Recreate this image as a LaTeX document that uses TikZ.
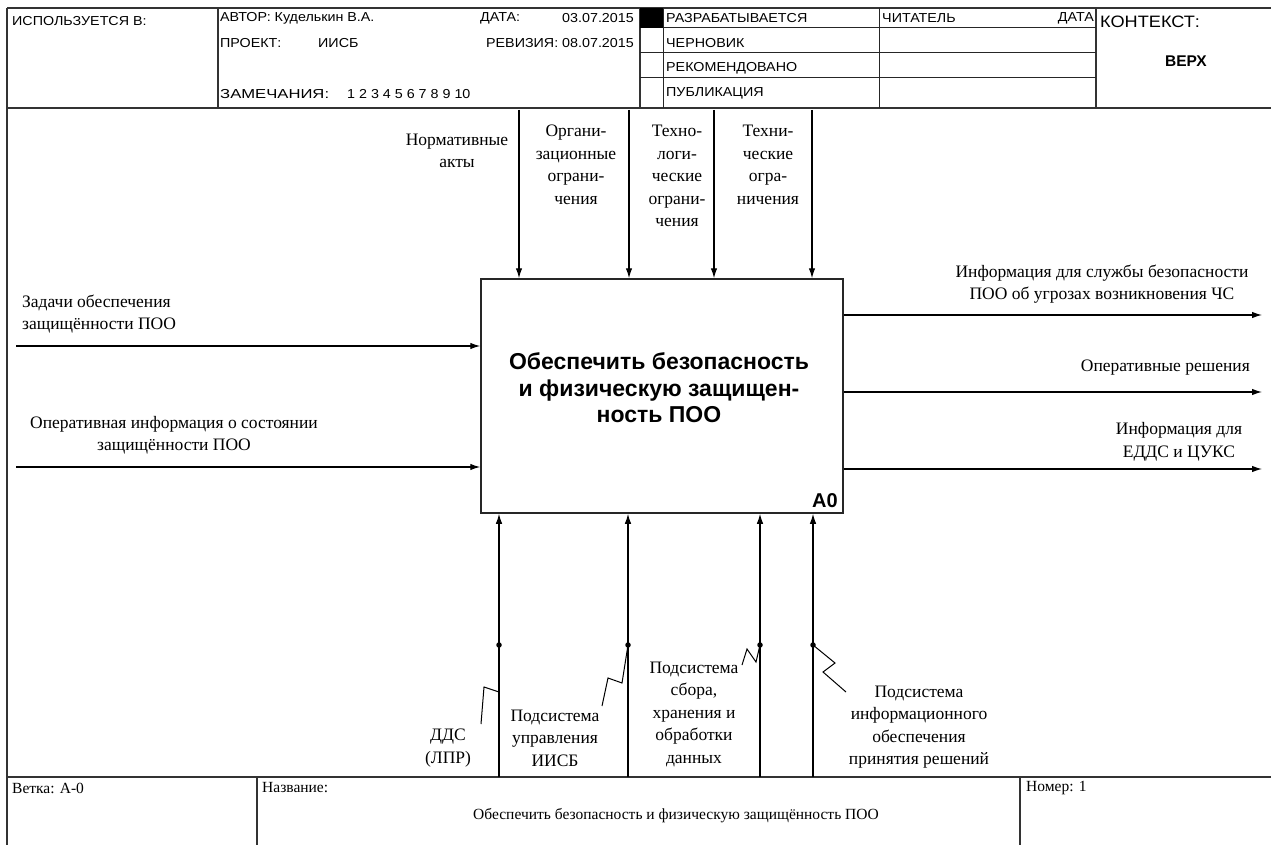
\documentclass[tikz,border=0pt]{standalone}
\usepackage{fontspec}
\setmainfont{Liberation Serif}
\newfontfamily\hdr[FakeStretch=1.1]{Liberation Sans}
\newfontfamily\hdrw[FakeStretch=1.28]{Liberation Sans}
\newfontfamily\boxfont{Liberation Sans}
\usetikzlibrary{arrows.meta}
\begin{document}
\begin{tikzpicture}[x=1pt,y=-1pt,
  framel/.style={line width=1.8pt, draw=black!80},
  hline/.style={line width=1pt, draw=black!85},
  flow/.style={line width=1.2pt, draw=black, -{Latex[length=10pt,width=6.5pt]}},
  hdrtext/.style={font=\hdr\fontsize{13}{15}\selectfont, inner sep=0pt},
  lbl/.style={font=\fontsize{17.5}{22.5}\selectfont, align=center, inner sep=0pt},
  ftext/.style={font=\fontsize{15.5}{18}\selectfont, inner sep=0pt},
  jdot/.style={circle, fill=black, inner sep=0pt, minimum size=5.5pt},
  squig/.style={line width=1pt, draw=black},
]
\useasboundingbox (0,0) rectangle (1271,845);
\fill[white] (0,0) rectangle (1271,845);

% ---------- frame ----------
\draw[framel] (7,8) -- (1271,8);
\draw[framel] (7,8) -- (7,845);
\draw[framel] (7,108) -- (1271,108);
\draw[framel] (7,777) -- (1271,777);
\draw[framel] (218,8) -- (218,108);
\draw[framel] (640,8) -- (640,108);
\draw[framel] (1096,8) -- (1096,108);
\draw[hline] (663,8) -- (663,108);
\draw[hline] (879,8) -- (879,108);
\draw[hline] (640,28) -- (1096,28);
\draw[hline] (640,53) -- (1096,53);
\draw[hline] (640,78) -- (1096,78);
\fill[black] (640,8) rectangle (663,28);
\draw[framel] (257,777) -- (257,845);
\draw[framel] (1020,777) -- (1020,845);

% ---------- header texts ----------
\node[hdrtext, anchor=west] (h1) at (12,21) {ИСПОЛЬЗУЕТСЯ В:};
\node[hdrtext, anchor=west] (h2) at (220,18) {АВТОР: Куделькин В.А.};
\node[hdrtext, anchor=west] (h3) at (220,43) {ПРОЕКТ:};
\node[hdrtext, anchor=west] (h4) at (318,43) {ИИСБ};
\node[hdrtext, font=\hdrw\fontsize{13}{15}\selectfont, anchor=west] (h5) at (220,94) {ЗАМЕЧАНИЯ:};
\node[hdrtext, anchor=west] (h5n) at (347,94) {1 2 3 4 5 6 7 8 9 10};
\node[hdrtext, anchor=west] (h6) at (480,18) {ДАТА:};
\node[hdrtext, anchor=east] (h7) at (634,18) {03.07.2015};
\node[hdrtext, anchor=east] (h8) at (634,43) {РЕВИЗИЯ: 08.07.2015};
\node[hdrtext, anchor=west] (s1) at (666,18) {РАЗРАБАТЫВАЕТСЯ};
\node[hdrtext, anchor=west] (s2) at (666,43) {ЧЕРНОВИК};
\node[hdrtext, anchor=west] (s3) at (666,68) {РЕКОМЕНДОВАНО};
\node[hdrtext, anchor=west] (s4) at (666,93) {ПУБЛИКАЦИЯ};
\node[hdrtext, anchor=west] (rd) at (882,18) {ЧИТАТЕЛЬ};
\node[hdrtext, anchor=east] (rdt) at (1094,18) {ДАТА};
\node[font=\hdr\fontsize{16.5}{18}\selectfont, inner sep=0pt, anchor=west] (ctx) at (1100,22) {КОНТЕКСТ:};
\node[font=\boxfont\bfseries\fontsize{15.5}{18}\selectfont, inner sep=0pt] (top) at (1186,61) {ВЕРХ};

% ---------- activity box ----------
\node[draw=black!85, line width=1.5pt, minimum width=362pt, minimum height=234pt, inner sep=0pt] (A0) at (662,396) {};
\node[font=\boxfont\bfseries\fontsize{23}{26.5}\selectfont, align=center, inner sep=0pt] (A0t) at (659,388)
  {Обеспечить безопасность\\и физическую защищен-\\ность ПОО};
\node[font=\boxfont\bfseries\fontsize{20}{22}\selectfont, anchor=south east, inner sep=0pt] (A0n) at (838,508) {A0};

% ---------- controls ----------
\coordinate (c1) at (519,110);
\coordinate (c2) at (629,110);
\coordinate (c3) at (714,110);
\coordinate (c4) at (812,110);
\foreach \c in {c1,c2,c3,c4} \draw[flow] (\c) -- (\c |- A0.north);
\node[lbl] (t1) at (457,151) {Нормативные\\акты};
\node[lbl] (t2) at (576,165) {Органи-\\зационные\\ограни-\\чения};
\node[lbl] (t3) at (677,176) {Техно-\\логи-\\ческие\\ограни-\\чения};
\node[lbl] (t4) at (768,165) {Техни-\\ческие\\огра-\\ничения};

% ---------- inputs ----------
\coordinate (i1) at (16,346);
\coordinate (i2) at (16,467);
\draw[flow] (i1) -- (i1 -| A0.west);
\draw[flow] (i2) -- (i2 -| A0.west);
\node[lbl, align=left, anchor=west] (l1) at (22,314) {Задачи обеспечения\\защищённости ПОО};
\node[lbl] (l2) at (174,435) {Оперативная информация о состоянии\\защищённости ПОО};

% ---------- outputs ----------
\coordinate (o1) at (1262,315);
\coordinate (o2) at (1262,392);
\coordinate (o3) at (1262,469);
\draw[flow] (o1 -| A0.east) -- (o1);
\draw[flow] (o2 -| A0.east) -- (o2);
\draw[flow] (o3 -| A0.east) -- (o3);
\node[lbl] (r1) at (1102,284) {Информация для службы безопасности\\ПОО об угрозах возникновения ЧС};
\node[lbl, anchor=east] (r2) at (1250,368) {Оперативные решения};
\node[lbl] (r3) at (1179,442) {Информация для\\ЕДДС и ЦУКС};

% ---------- mechanisms ----------
\coordinate (m1) at (499,777);
\coordinate (m2) at (628,777);
\coordinate (m3) at (760,777);
\coordinate (m4) at (813,777);
\foreach \m in {m1,m2,m3,m4} \draw[flow] (\m) -- (\m |- A0.south);
\node[jdot] (d1) at (499,645) {};
\node[jdot] (d2) at (628,645) {};
\node[jdot] (d3) at (760,645) {};
\node[jdot] (d4) at (813,645) {};

\node[lbl] (b1) at (448,748) {ДДС\\(ЛПР)};
\node[lbl] (b2) at (555,738) {Подсистема\\управления\\ИИСБ};
\node[lbl] (b3) at (694,714) {Подсистема\\сбора,\\хранения и\\обработки\\данных};
\node[lbl] (b4) at (919,727) {Подсистема\\информационного\\обеспечения\\принятия решений};

% squiggles
\draw[line width=2.4pt] (499,667) -- (499,692);
\draw[squig] (499,692) -- (484,687) -- (481,724);
\draw[squig] (d2.center) -- (622,683) -- (608,678) -- (602,706);
\draw[squig] (d3.center) -- (756,662) -- (747,649) -- (742,665);
\draw[squig] (d4.center) -- (835,663) -- (823,672) -- (846,692);

% ---------- footer ----------
\node[ftext, anchor=west] (f1) at (12,788) {Ветка: A-0};
\node[ftext, anchor=west] (f2) at (262,788) {Название:};
\node[ftext] (f3) at (676,816) {Обеспечить безопасность и физическую защищённость ПОО};
\node[ftext, anchor=west] (f4) at (1026,788) {Номер: 1};
\end{tikzpicture}
\end{document}
